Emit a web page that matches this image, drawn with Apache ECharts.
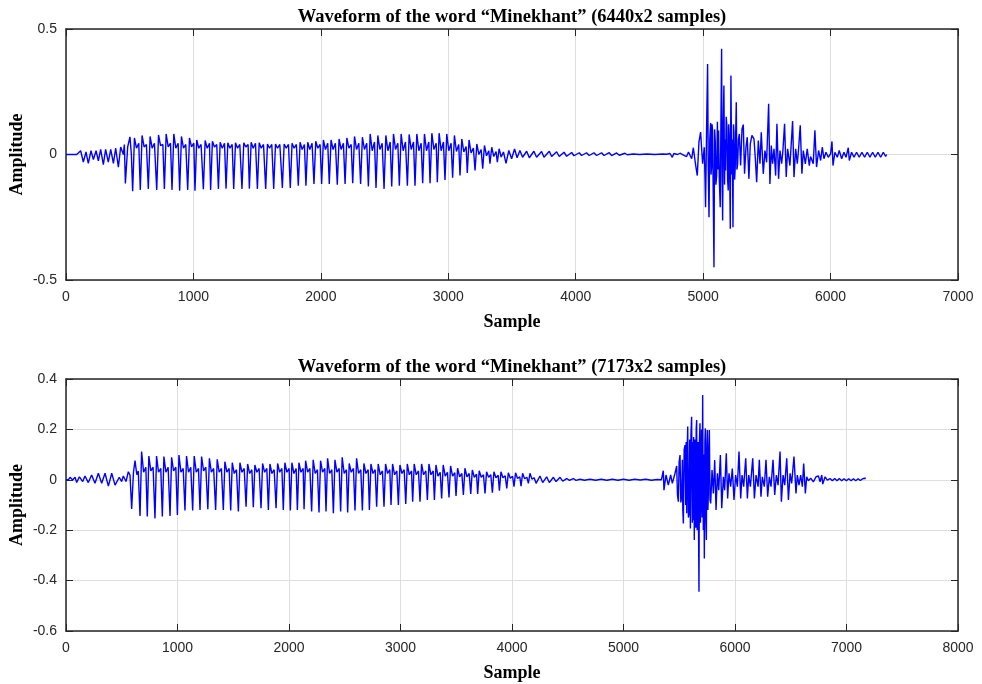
<!DOCTYPE html>
<html>
<head>
<meta charset="utf-8">
<script src="https://cdn.jsdelivr.net/npm/echarts@6/dist/echarts.min.js"></script>
<style>
html,body{margin:0;padding:0;background:#fff;}
#chart{width:982px;height:684px;}
</style>
</head>
<body>
<div id="chart"></div>
<script>
// ---------- titles & ticks ----------
const titles = ['Waveform of the word \u201cMinekhant\u201d (6440x2 samples)', 'Waveform of the word \u201cMinekhant\u201d (7173x2 samples)'];
const xLabel = 'Sample';
const yLabel = 'Amplitude';
const topXTicks = [0, 7000, 1000];
const topYTicks = [-0.5, 0.5, 0.5];
const botXTicks = [0, 8000, 1000];
const botYTicks = [-0.6, 0.4, 0.2];

// ---------- top waveform (6440 samples) ----------
const topOnset = [[0,0],[84,0],[97,0.0],[115,0.015],[136,-0.03],[157,0.01],[175,-0.035],[196,0.015],[215,-0.02],[236,0.015],[254,-0.025],[272,0.02],[293,-0.04],[311,0.02],[332,-0.03],[351,0.02],[372,-0.035],[390,0.025],[411,-0.05],[429,0.03],[450,0.0],[458,0.04],[466,-0.115],[484,0.03],[502,0.07],[513,0.0]];
const topPeriodStart = [523,583,646,712,772,832,892,955,1012,1078,1135,1196,1256,1316,1381,1439,1502,1567,1630,1698,1760,1823,1883,1946,2006,2066,2129,2190,2250,2312,2373,2433,2496,2556,2616,2679,2739,2799,2857,2914,2974,3034,3092,3149,3210,3270,3327,3385];
const topPeriodMin = [-0.146,-0.141,-0.137,-0.141,-0.137,-0.141,-0.144,-0.141,-0.144,-0.138,-0.141,-0.137,-0.136,-0.137,-0.137,-0.136,-0.137,-0.137,-0.137,-0.133,-0.133,-0.124,-0.124,-0.117,-0.117,-0.117,-0.120,-0.117,-0.114,-0.117,-0.127,-0.133,-0.137,-0.127,-0.124,-0.124,-0.124,-0.114,-0.114,-0.110,-0.101,-0.093,-0.084,-0.074,-0.064,-0.057,-0.037,-0.031];
const topPeriodMax = [0.066,0.076,0.072,0.078,0.082,0.082,0.072,0.066,0.058,0.056,0.053,0.049,0.047,0.047,0.047,0.049,0.047,0.042,0.042,0.042,0.045,0.049,0.049,0.053,0.058,0.058,0.062,0.066,0.072,0.069,0.082,0.076,0.076,0.082,0.082,0.080,0.082,0.082,0.085,0.085,0.082,0.076,0.062,0.058,0.042,0.036,0.029,0.023];
const topPeriodDip = [0.025,0.03,0.025,0.035,0.03,0.025,0.025,0.03,0.025,0.025,0.03,0.025,0.025,0.025,0.03,0.025,0.025,0.025,0.025,0.025,0.025,0.02,0.02,0.025,0.02,0.02,0.02,0.025,0.02,0.02,0.015,0.02,0.015,0.02,0.015,0.02,0.015,0.015,0.02,0.015,0.015,0.012,0.01,0.006,0.0,-0.005,-0.008,-0.01];
const topPeriodBump = [0.045,0.04,0.045,0.04,0.045,0.045,0.04,0.045,0.04,0.045,0.04,0.045,0.04,0.04,0.04,0.045,0.04,0.04,0.04,0.04,0.04,0.04,0.045,0.04,0.045,0.045,0.045,0.04,0.045,0.045,0.05,0.045,0.05,0.045,0.05,0.05,0.045,0.05,0.045,0.05,0.045,0.04,0.032,0.026,0.02,0.015,0.012,0.01];
const topPeriodShape = [14, 30, 48]; // sample offsets of peak, dip, bump inside a pitch period
const topTail = [[3453,-0.035],[3475,0.016],[3497,-0.017],[3520,0.022],[3540,-0.013],[3562,0.016],[3583,-0.011],[3615,0.013],[3636,-0.013],[3672,0.013],[3693,-0.011],[3732,0.012],[3751,-0.011],[3793,0.013],[3811,-0.008],[3850,0.011],[3871,-0.008],[3908,0.009],[3929,-0.007],[3968,0.008],[3986,-0.005],[4028,0.007],[4046,-0.004],[4085,0.007],[4106,-0.004],[4143,0.007],[4164,-0.004],[4203,0.007],[4222,-0.004],[4263,0.007],[4282,-0.004],[4321,0.006],[4342,-0.003],[4386,0.005],[4405,-0.001],[4452,0.002],[4500,0.0],[4560,0.002],[4620,0.0],[4680,0.002],[4713,0.001],[4740,0.004],[4758,-0.011],[4770,0.004],[4800,0.0],[4818,0.005],[4850,-0.003],[4870,-0.008],[4885,0.01],[4896,0.013],[4910,-0.017],[4923,0.027],[4938,-0.031],[4954,-0.084],[4967,0.049],[4980,0.089],[4996,-0.037],[5009,0.029],[5014,-0.08],[5019,-0.21],[5027,0.1],[5035,0.361],[5040,-0.05],[5046,-0.25],[5052,0.06],[5059,0.125],[5062,-0.08],[5066,-0.05],[5070,0.12],[5074,0.096],[5079,-0.15],[5085,-0.449],[5090,0.1],[5095,0.056],[5100,-0.12],[5106,-0.084],[5112,0.13],[5116,-0.06],[5121,0.096],[5127,-0.1],[5134,-0.21],[5139,0.1],[5145,0.421],[5149,-0.1],[5153,-0.263],[5158,0.12],[5163,0.275],[5168,-0.12],[5172,0.06],[5176,-0.064],[5181,0.15],[5187,0.109],[5192,-0.1],[5197,-0.143],[5201,0.12],[5205,0.076],[5209,-0.1],[5213,-0.296],[5218,0.315],[5224,-0.08],[5229,0.06],[5234,-0.29],[5238,0.12],[5242,0.089],[5247,-0.1],[5252,-0.05],[5256,0.1],[5260,0.208],[5265,-0.06],[5271,-0.037],[5277,0.06],[5284,0.082],[5294,-0.044],[5305,0.102],[5315,0.119],[5325,-0.077],[5336,0.029],[5346,0.069],[5359,-0.097],[5370,0.042],[5383,0.076],[5399,0.062],[5409,-0.011],[5420,-0.11],[5433,0.056],[5446,-0.037],[5456,0.089],[5472,-0.077],[5485,0.016],[5498,-0.031],[5514,0.202],[5524,-0.117],[5535,0.036],[5545,-0.037],[5556,0.023],[5569,-0.084],[5579,0.122],[5592,-0.097],[5603,0.016],[5616,-0.037],[5626,0.016],[5639,0.122],[5652,-0.09],[5663,0.023],[5681,-0.044],[5689,0.023],[5702,0.133],[5713,-0.09],[5726,0.023],[5739,-0.037],[5749,0.023],[5762,0.116],[5775,-0.077],[5786,0.016],[5802,-0.037],[5817,0.023],[5833,-0.044],[5843,-0.008],[5864,-0.037],[5877,0.096],[5890,-0.05],[5906,0.016],[5922,-0.024],[5935,0.029],[5948,-0.017],[5964,0.009],[5982,-0.011],[6000,0.003],[6011,0.052],[6019,-0.044],[6034,0.009],[6053,-0.011],[6068,0.016],[6087,-0.017],[6105,0.009],[6121,-0.011],[6139,0.027],[6147,-0.024],[6165,0.009],[6184,-0.011],[6204,0.009],[6225,-0.011],[6246,0.009],[6267,-0.011],[6288,0.009],[6309,-0.011],[6330,0.009],[6351,-0.011],[6372,0.009],[6393,-0.011],[6414,0.009],[6432,-0.008],[6440,0.0]];

// ---------- bottom waveform (7173 samples) ----------
const botOnset = [[0,0],[21,0],[36,0.010],[60,-0.001],[81,0.010],[96,-0.011],[120,0.012],[150,-0.007],[170,0.015],[200,-0.011],[230,0.019],[260,-0.014],[290,0.026],[320,-0.014],[350,0.026],[380,-0.025],[410,0.026],[440,-0.021],[478,0.010],[499,-0.007],[514,0.015],[538,-0.007],[559,0.032],[574,0.019],[589,-0.116],[605,0.03],[619,0.076],[635,0.02],[648,0.035]];
const botPeriodStart = [664,729,798,864,933,999,1067,1136,1202,1272,1342,1411,1477,1546,1615,1680,1749,1815,1884,1949,2012,2075,2135,2203,2269,2332,2398,2463,2526,2592,2658,2721,2786,2852,2915,2981,3047,3109,3175,3241,3304,3369,3435,3498,3564,3630,3692,3758,3824,3887,3953,4018,4081,4147];
const botPeriodMin = [-0.144,-0.146,-0.153,-0.146,-0.144,-0.140,-0.122,-0.122,-0.120,-0.117,-0.120,-0.120,-0.122,-0.126,-0.107,-0.109,-0.113,-0.120,-0.113,-0.120,-0.122,-0.120,-0.117,-0.126,-0.130,-0.126,-0.133,-0.126,-0.130,-0.122,-0.122,-0.120,-0.107,-0.107,-0.100,-0.100,-0.096,-0.087,-0.087,-0.080,-0.080,-0.074,-0.070,-0.064,-0.060,-0.056,-0.056,-0.054,-0.051,-0.043,-0.034,-0.027,-0.025,-0.014];
const botPeriodMax = [0.112,0.094,0.094,0.092,0.089,0.098,0.094,0.094,0.092,0.085,0.081,0.072,0.068,0.068,0.063,0.059,0.065,0.063,0.065,0.068,0.068,0.068,0.076,0.079,0.076,0.085,0.079,0.089,0.065,0.085,0.065,0.063,0.063,0.063,0.063,0.059,0.063,0.063,0.063,0.063,0.059,0.059,0.055,0.046,0.046,0.039,0.036,0.032,0.032,0.032,0.028,0.028,0.026,0.026];
const botPeriodDip = [0.03,0.035,0.03,0.03,0.035,0.03,0.03,0.03,0.035,0.03,0.03,0.03,0.025,0.03,0.025,0.03,0.03,0.025,0.03,0.03,0.025,0.03,0.03,0.025,0.03,0.025,0.03,0.025,0.03,0.025,0.025,0.025,0.02,0.025,0.02,0.025,0.02,0.02,0.02,0.02,0.015,0.015,0.015,0.012,0.012,0.01,0.01,0.01,0.008,0.008,0.006,0.005,0.004,0.003];
const botPeriodBump = [0.05,0.05,0.045,0.05,0.05,0.045,0.05,0.045,0.05,0.045,0.045,0.045,0.04,0.045,0.04,0.045,0.045,0.04,0.045,0.045,0.045,0.045,0.045,0.04,0.045,0.04,0.045,0.04,0.045,0.04,0.04,0.04,0.035,0.04,0.035,0.04,0.035,0.035,0.035,0.035,0.03,0.03,0.028,0.025,0.025,0.022,0.02,0.02,0.018,0.016,0.014,0.012,0.01,0.008];
const botPeriodShape = [14, 32, 52];
const botTail = [[4216,-0.014],[4251,0.015],[4275,-0.011],[4311,0.012],[4335,-0.011],[4371,0.010],[4395,-0.007],[4431,0.010],[4455,-0.005],[4491,0.005],[4515,-0.002],[4550,0.005],[4574,-0.002],[4610,0.002],[4650,-0.002],[4700,0.002],[4750,-0.002],[4800,0.002],[4850,-0.002],[4900,0.002],[4950,-0.002],[5000,0.002],[5050,-0.002],[5100,0.002],[5150,-0.001],[5200,0.002],[5250,-0.002],[5300,0.001],[5340,0.0],[5357,0.036],[5363,-0.041],[5381,0.019],[5402,-0.021],[5423,0.019],[5438,-0.014],[5462,0.026],[5477,0.055],[5484,-0.06],[5492,-0.087],[5499,0.07],[5507,0.098],[5514,-0.09],[5522,-0.067],[5528,0.08],[5532,-0.12],[5537,-0.173],[5544,0.12],[5552,0.138],[5558,-0.10],[5562,0.15],[5567,-0.133],[5572,0.13],[5576,0.211],[5582,-0.15],[5588,-0.133],[5594,0.16],[5600,-0.193],[5605,0.18],[5611,0.250],[5617,-0.17],[5620,0.15],[5623,-0.160],[5629,0.17],[5635,-0.239],[5640,0.16],[5644,0.131],[5648,-0.19],[5652,0.2],[5656,0.237],[5661,-0.2],[5665,-0.146],[5669,0.15],[5673,-0.2],[5677,-0.444],[5681,0.15],[5686,0.224],[5690,-0.17],[5695,-0.041],[5700,0.2],[5705,-0.15],[5710,0.336],[5716,-0.199],[5720,0.1],[5725,-0.312],[5730,0.15],[5734,0.204],[5739,-0.15],[5743,-0.239],[5748,0.14],[5752,0.198],[5757,-0.12],[5761,-0.054],[5765,0.12],[5770,0.198],[5776,-0.08],[5782,-0.094],[5794,0.039],[5806,-0.054],[5818,0.078],[5830,-0.120],[5842,0.026],[5854,-0.041],[5869,0.098],[5881,-0.113],[5896,0.012],[5907,-0.041],[5922,0.105],[5934,-0.074],[5946,0.026],[5961,-0.027],[5976,0.045],[5991,-0.080],[6006,0.019],[6021,-0.027],[6036,0.112],[6051,-0.074],[6063,0.019],[6078,-0.027],[6096,0.085],[6111,-0.074],[6123,0.019],[6138,-0.027],[6159,0.085],[6174,-0.074],[6189,0.019],[6207,-0.027],[6218,0.079],[6233,-0.067],[6245,0.012],[6263,-0.027],[6278,0.079],[6293,-0.067],[6308,0.012],[6323,-0.027],[6341,0.079],[6356,-0.060],[6371,0.019],[6386,-0.021],[6404,0.112],[6416,-0.087],[6431,0.019],[6446,-0.021],[6464,0.085],[6479,-0.080],[6494,0.026],[6508,-0.014],[6529,0.092],[6547,-0.054],[6559,0.019],[6574,-0.021],[6589,0.019],[6604,-0.027],[6616,0.065],[6631,-0.054],[6643,0.012],[6658,-0.004],[6679,0.006],[6703,-0.008],[6727,0.012],[6748,0.015],[6763,-0.008],[6778,0.019],[6787,-0.017],[6808,0.012],[6828,-0.001],[6852,0.005],[6873,-0.004],[6894,0.005],[6915,-0.004],[6936,0.005],[6957,-0.004],[6978,0.004],[6999,-0.004],[7020,0.004],[7041,-0.004],[7062,0.004],[7083,-0.004],[7104,0.004],[7124,-0.003],[7145,0.004],[7166,0.006],[7173,0.005]];

// ---------- build ----------
function buildWave(onset, starts, mins, maxs, dips, bumps, shape, tail) {
  const pts = onset.slice();
  for (let i = 0; i < starts.length; i++) {
    pts.push([starts[i], mins[i]]);
    pts.push([starts[i] + shape[0], maxs[i]]);
    pts.push([starts[i] + shape[1], dips[i]]);
    pts.push([starts[i] + shape[2], bumps[i]]);
  }
  return pts.concat(tail);
}
const topData = buildWave(topOnset, topPeriodStart, topPeriodMin, topPeriodMax, topPeriodDip, topPeriodBump, topPeriodShape, topTail);
const botData = buildWave(botOnset, botPeriodStart, botPeriodMin, botPeriodMax, botPeriodDip, botPeriodBump, botPeriodShape, botTail);

const AXC = '#262626';
const GRIDC = '#dedede';
const labelFont = {fontFamily: 'Liberation Sans, Arial, sans-serif', fontSize: 14, color: AXC};
const nameFont = {fontFamily: 'Liberation Serif, Times New Roman, serif', fontSize: 18, fontWeight: 'bold', color: '#000'};
const titleFont = {fontFamily: 'Liberation Serif, Times New Roman, serif', fontSize: 18.5, fontWeight: 'bold', color: '#000'};
const fmt = v => String(Math.round(v * 10) / 10);

function xAxes(grid, t) {
  return [
    {type: 'value', gridIndex: grid, position: 'bottom', min: t[0], max: t[1], interval: t[2],
     axisLine: {show: true, onZero: false, lineStyle: {color: AXC, width: 1.5}},
     axisTick: {show: true, inside: true, length: 7, lineStyle: {color: AXC, width: 1}},
     axisLabel: Object.assign({margin: 10, formatter: fmt}, labelFont),
     splitLine: {show: true, lineStyle: {color: GRIDC, width: 1}},
     name: xLabel, nameLocation: 'middle', nameGap: 33, nameMoveOverlap: false, nameTextStyle: nameFont},
    {type: 'value', gridIndex: grid, position: 'top', min: t[0], max: t[1], interval: t[2],
     axisLine: {show: true, onZero: false, lineStyle: {color: AXC, width: 1.5}},
     axisTick: {show: true, inside: true, length: 7, lineStyle: {color: AXC, width: 1}},
     axisLabel: {show: false}, splitLine: {show: false}}
  ];
}
function yAxes(grid, t) {
  return [
    {type: 'value', gridIndex: grid, position: 'left', min: t[0], max: t[1], interval: t[2],
     axisLine: {show: true, onZero: false, lineStyle: {color: AXC, width: 1.5}},
     axisTick: {show: true, inside: true, length: 7, lineStyle: {color: AXC, width: 1}},
     axisLabel: Object.assign({margin: 9, formatter: fmt}, labelFont),
     splitLine: {show: true, lineStyle: {color: GRIDC, width: 1}},
     name: yLabel, nameLocation: 'middle', nameRotate: 90, nameGap: 40, nameMoveOverlap: false, nameTextStyle: nameFont},
    {type: 'value', gridIndex: grid, position: 'right', min: t[0], max: t[1], interval: t[2],
     axisLine: {show: true, onZero: false, lineStyle: {color: AXC, width: 1.5}},
     axisTick: {show: true, inside: true, length: 7, lineStyle: {color: AXC, width: 1}},
     axisLabel: {show: false}, splitLine: {show: false}}
  ];
}

const chart = echarts.init(document.getElementById('chart'), null, {renderer: 'canvas'});
chart.setOption({
  animation: false,
  backgroundColor: '#fff',
  title: [
    {text: titles[0], left: 507, top: 3, textAlign: 'center', textStyle: titleFont},
    {text: titles[1], left: 507, top: 353, textAlign: 'center', textStyle: titleFont}
  ],
  grid: [
    {left: 66, right: 24, top: 29, height: 251, containLabel: false, outerBoundsMode: 'none'},
    {left: 66, right: 24, top: 379, height: 252, containLabel: false, outerBoundsMode: 'none'}
  ],
  xAxis: xAxes(0, topXTicks).concat(xAxes(1, botXTicks)),
  yAxis: yAxes(0, topYTicks).concat(yAxes(1, botYTicks)),
  series: [
    {type: 'line', xAxisIndex: 0, yAxisIndex: 0, data: topData, showSymbol: false,
     lineStyle: {color: '#0000ff', width: 1.4}, z: 3},
    {type: 'line', xAxisIndex: 2, yAxisIndex: 2, data: botData, showSymbol: false,
     lineStyle: {color: '#0000ff', width: 1.4}, z: 3}
  ]
});
</script>
</body>
</html>
